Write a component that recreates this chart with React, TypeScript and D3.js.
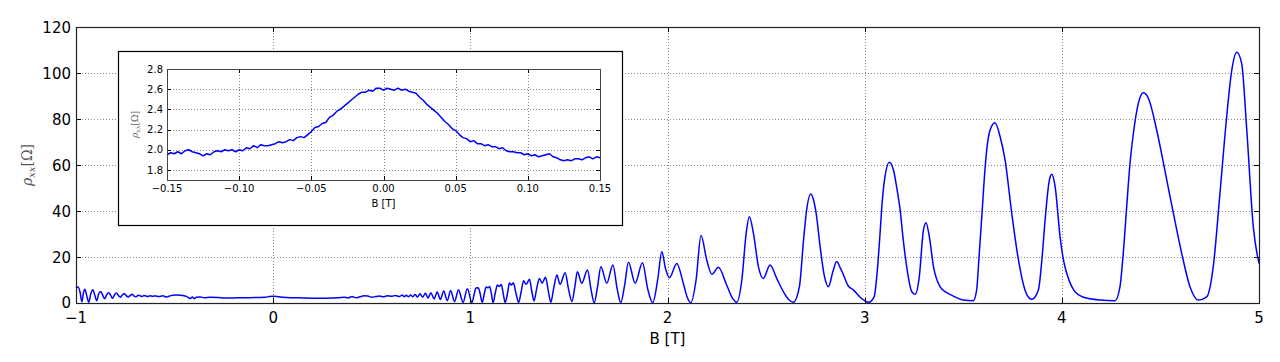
import React from "react";
import * as d3 from "d3";

// ---- Data ----
const B_TICKS = [-1, 0, 1, 2, 3, 4, 5];
const RHO_TICKS = [0, 20, 40, 60, 80, 100, 120];
const INSET_B_TICKS = [-0.15, -0.1, -0.05, 0, 0.05, 0.1, 0.15];
const INSET_RHO_TICKS = [1.8, 2.0, 2.2, 2.4, 2.6, 2.8];

// Main trace: [B (T), rho_xx (Ohm)]
const mainLow: [number, number][] = [
  [-1.0, 6.5], [-0.99, 7.0], [-0.98, 5.0], [-0.97, 0.5], [-0.962, 4.5], [-0.955, 6.0],
  [-0.945, 3.0], [-0.935, 0.3], [-0.925, 4.0], [-0.915, 5.8], [-0.905, 3.5], [-0.895, 1.0],
  [-0.885, 4.0], [-0.875, 5.0], [-0.865, 3.5], [-0.855, 1.8], [-0.845, 3.5], [-0.835, 4.5],
  [-0.825, 3.5], [-0.815, 2.0], [-0.805, 3.5], [-0.795, 4.3], [-0.785, 3.3], [-0.775, 2.5],
  [-0.765, 3.5], [-0.755, 4.0], [-0.745, 3.2], [-0.735, 2.6], [-0.725, 3.3], [-0.715, 3.8],
  [-0.705, 3.0], [-0.695, 2.7], [-0.685, 3.4], [-0.675, 3.2], [-0.665, 2.8], [-0.655, 3.3],
  [-0.645, 3.0], [-0.635, 2.8], [-0.625, 3.2], [-0.61, 2.9], [-0.6, 3.1], [-0.58, 2.8],
  [-0.56, 3.1], [-0.54, 2.6], [-0.52, 3.2], [-0.5, 3.5], [-0.48, 3.5], [-0.46, 3.3],
  [-0.44, 2.9], [-0.42, 2.0], [-0.41, 2.6], [-0.4, 1.9], [-0.39, 2.5], [-0.37, 2.6],
  [-0.35, 2.3], [-0.32, 2.5], [-0.28, 2.4], [-0.24, 2.2], [-0.2, 2.2], [-0.16, 2.3],
  [-0.12, 2.3], [-0.08, 2.4], [-0.04, 2.5], [-0.02, 2.8], [0.0, 2.9], [0.02, 2.8],
  [0.05, 2.5], [0.1, 2.3], [0.15, 2.2], [0.2, 2.1], [0.25, 2.1], [0.3, 2.2],
  [0.33, 2.3], [0.36, 2.5], [0.38, 2.2], [0.4, 2.8], [0.42, 2.3], [0.44, 2.7],
  [0.46, 3.1], [0.48, 3.0], [0.5, 2.5], [0.52, 2.8], [0.54, 3.0], [0.56, 2.7],
  [0.58, 3.2], [0.6, 2.9], [0.62, 3.3], [0.64, 2.8], [0.655, 3.5], [0.665, 2.7],
  [0.675, 3.4], [0.686, 2.7], [0.697, 3.5], [0.708, 2.7], [0.72, 3.7], [0.732, 2.6],
  [0.745, 4.0], [0.758, 2.5], [0.772, 4.2], [0.786, 2.2], [0.8, 4.5], [0.816, 1.8],
  [0.832, 4.8], [0.848, 1.5], [0.865, 5.2], [0.883, 1.0], [0.9, 5.4], [0.92, 0.6],
  [0.94, 5.8], [0.963, 0.3], [0.985, 6.2],
];

const mainMid: [number, number][] = [
  [1.008, 0.2], [1.02, 4.0], [1.028, 6.5], [1.04, 6.6], [1.05, 4.0], [1.06, 0.3],
  [1.072, 4.5], [1.08, 7.0], [1.09, 6.6], [1.098, 7.2], [1.107, 4.0], [1.115, 0.2],
  [1.128, 5.0], [1.137, 7.8], [1.147, 7.2], [1.157, 8.0], [1.167, 4.0], [1.177, 0.2],
  [1.19, 5.0], [1.198, 8.7], [1.208, 7.8], [1.218, 8.8], [1.232, 4.0], [1.245, 0.2],
  [1.258, 5.0], [1.27, 9.7], [1.283, 8.1], [1.3, 10.3], [1.312, 5.0], [1.323, 0.9],
  [1.336, 6.0], [1.35, 10.7], [1.364, 8.6], [1.381, 11.2], [1.395, 5.5], [1.408, 0.3],
  [1.423, 6.5], [1.439, 12.2], [1.455, 8.1], [1.481, 13.2], [1.498, 6.0], [1.515, 0.6],
  [1.53, 7.0], [1.543, 13.6], [1.565, 8.6], [1.594, 14.3], [1.612, 6.0], [1.628, 0.1],
  [1.645, 7.0], [1.662, 15.8], [1.692, 8.6], [1.723, 16.5], [1.745, 6.0], [1.763, 0.1],
  [1.783, 8.0], [1.802, 17.7], [1.836, 8.6], [1.873, 17.5], [1.9, 6.0], [1.925, 0.1],
  [1.95, 10.0], [1.971, 22.3], [1.99, 15.0], [2.01, 11.0], [2.047, 17.2], [2.08, 8.6],
  [2.1, 2.5], [2.118, 0.1], [2.145, 10.0], [2.17, 29.3], [2.199, 18.7], [2.225, 12.5],
  [2.258, 15.5], [2.3, 7.8], [2.33, 2.0], [2.351, 0.3], [2.377, 10.0], [2.399, 30.3],
  [2.415, 37.5], [2.436, 30.3], [2.461, 15.8], [2.486, 10.7], [2.52, 16.5], [2.554, 10.7],
  [2.588, 4.9], [2.615, 1.5], [2.638, 0.3],
];

const mainHigh: [number, number][] = [
  [2.669, 7.1], [2.69, 27.4], [2.705, 40.0], [2.727, 47.4], [2.74, 45.0], [2.754, 39.0],
  [2.774, 24.5], [2.795, 12.0], [2.816, 7.1], [2.84, 14.0], [2.858, 18.0], [2.875, 15.5],
  [2.889, 12.9], [2.917, 7.4], [2.943, 5.7], [2.977, 2.5], [3.0, 1.0], [3.019, 0.3],
  [3.048, 2.7], [3.065, 15.0], [3.078, 30.3], [3.09, 45.0], [3.103, 54.9], [3.125, 61.2],
  [3.146, 57.8], [3.163, 50.0], [3.18, 40.4], [3.195, 28.0], [3.213, 15.8], [3.239, 4.9],
  [3.256, 3.8], [3.277, 11.4], [3.298, 31.7], [3.311, 34.9], [3.328, 28.8], [3.349, 15.8],
  [3.382, 7.1], [3.416, 4.5], [3.45, 3.0], [3.5, 1.3], [3.551, 1.0], [3.568, 5.7],
  [3.58, 20.0], [3.594, 37.5], [3.61, 57.8], [3.619, 66.5], [3.636, 75.2], [3.661, 78.4],
  [3.687, 72.3], [3.712, 62.2], [3.746, 39.0], [3.78, 18.7], [3.813, 5.7], [3.847, 1.6],
  [3.881, 5.7], [3.9, 20.0], [3.915, 36.0], [3.937, 53.5], [3.949, 56.0], [3.966, 50.6],
  [3.991, 28.8], [4.01, 18.0], [4.025, 12.9], [4.06, 5.7], [4.11, 2.5], [4.194, 1.3],
  [4.27, 1.0], [4.295, 7.1], [4.31, 20.0], [4.329, 41.9], [4.345, 60.0], [4.363, 73.8],
  [4.388, 86.8], [4.413, 91.4], [4.439, 89.0], [4.481, 75.2], [4.515, 61.0], [4.549, 46.2],
  [4.58, 33.0], [4.608, 21.6], [4.65, 7.1], [4.692, 1.3], [4.735, 2.7], [4.768, 15.8],
  [4.802, 47.7], [4.836, 81.0], [4.862, 101.3], [4.887, 109.0], [4.912, 104.2], [4.938, 75.2],
  [4.971, 33.2], [5.0, 17.2],
];

// Inset trace: [B (T), rho_xx (Ohm)]
const insetData: [number, number][] = [
  [-0.15, 1.95], [-0.1475, 1.97], [-0.145, 1.96], [-0.1425, 1.98], [-0.14, 1.96], [-0.1375, 1.99],
  [-0.135, 2.0], [-0.1325, 1.98], [-0.13, 1.97], [-0.1275, 1.96], [-0.125, 1.94], [-0.1225, 1.96],
  [-0.12, 1.95], [-0.1175, 1.98], [-0.115, 1.99], [-0.1125, 1.98], [-0.11, 2.0], [-0.1075, 1.99],
  [-0.105, 2.0], [-0.1025, 1.98], [-0.1, 2.0], [-0.0975, 1.99], [-0.095, 2.02], [-0.0925, 2.01],
  [-0.09, 2.04], [-0.0875, 2.02], [-0.085, 2.05], [-0.0825, 2.04], [-0.08, 2.04], [-0.0775, 2.05],
  [-0.075, 2.06], [-0.0725, 2.08], [-0.07, 2.07], [-0.0675, 2.08], [-0.065, 2.1], [-0.0625, 2.09],
  [-0.06, 2.12], [-0.0575, 2.13], [-0.055, 2.12], [-0.0525, 2.15], [-0.05, 2.18], [-0.0475, 2.22],
  [-0.045, 2.23], [-0.0425, 2.26], [-0.04, 2.27], [-0.0375, 2.32], [-0.035, 2.34], [-0.0325, 2.38],
  [-0.03, 2.4], [-0.0275, 2.43], [-0.025, 2.46], [-0.0225, 2.49], [-0.02, 2.52], [-0.0175, 2.55],
  [-0.015, 2.57], [-0.0125, 2.57], [-0.01, 2.59], [-0.0075, 2.58], [-0.005, 2.61], [-0.0025, 2.61],
  [0.0, 2.59], [0.0025, 2.61], [0.005, 2.6], [0.0075, 2.59], [0.01, 2.61], [0.0125, 2.59],
  [0.015, 2.6], [0.0175, 2.58], [0.02, 2.57], [0.0225, 2.56], [0.025, 2.52], [0.0275, 2.49],
  [0.03, 2.45], [0.0325, 2.42], [0.035, 2.39], [0.0375, 2.36], [0.04, 2.32], [0.0425, 2.28],
  [0.045, 2.25], [0.0475, 2.21], [0.05, 2.19], [0.0525, 2.15], [0.055, 2.12], [0.0575, 2.11],
  [0.06, 2.08], [0.0625, 2.09], [0.065, 2.06], [0.0675, 2.06], [0.07, 2.04], [0.0725, 2.05],
  [0.075, 2.03], [0.0775, 2.03], [0.08, 2.01], [0.0825, 2.02], [0.085, 1.99], [0.0875, 1.98],
  [0.09, 1.98], [0.0925, 1.97], [0.095, 1.97], [0.0975, 1.95], [0.1, 1.96], [0.1025, 1.94],
  [0.105, 1.95], [0.1075, 1.93], [0.11, 1.94], [0.1125, 1.95], [0.115, 1.96], [0.1175, 1.93],
  [0.12, 1.92], [0.1225, 1.9], [0.125, 1.89], [0.1275, 1.9], [0.13, 1.89], [0.1325, 1.91],
  [0.135, 1.91], [0.1375, 1.9], [0.14, 1.92], [0.1425, 1.93], [0.145, 1.91], [0.1475, 1.93],
  [0.15, 1.92],
];

const mainData = [...mainLow, ...mainMid, ...mainHigh];

const W = 1280;
const H = 362;
const M = { left: 76, right: 1259, top: 27, bottom: 303 };
const INS_BOX = { x: 118, y: 51, w: 504, h: 174 };
const INS = { left: 167, right: 600, top: 69, bottom: 180 };

const SANS = "'DejaVu Sans', sans-serif";
const SERIF = "'DejaVu Serif', serif";
const GRID = "#888";

export default function App() {
  const x = d3.scaleLinear().domain([-1, 5]).range([M.left, M.right]);
  const y = d3.scaleLinear().domain([0, 120]).range([M.bottom, M.top]);
  const line = d3
    .line<[number, number]>()
    .x((d) => x(d[0]))
    .y((d) => y(d[1]))
    .curve(d3.curveMonotoneX);

  const ix = d3.scaleLinear().domain([-0.15, 0.15]).range([INS.left, INS.right]);
  const iy = d3.scaleLinear().domain([1.7, 2.8]).range([INS.bottom, INS.top]);
  const iline = d3
    .line<[number, number]>()
    .x((d) => ix(d[0]))
    .y((d) => iy(d[1]));

  const fmtMain = d3.format("d");
  const fmtIx = d3.format(".2f");
  const fmtIy = d3.format(".1f");
  const TL = 5;
  const ITL = 4;

  return (
    <svg
      width={W}
      height={H}
      style={{ position: "absolute", left: 0, top: 0, display: "block", background: "#fff" }}
    >
      {/* main grid */}
      <g stroke={GRID} strokeWidth={1} strokeDasharray="1,2">
        {B_TICKS.slice(1, -1).map((t) => (
          <line key={"gx" + t} x1={Math.round(x(t)) + 0.5} x2={Math.round(x(t)) + 0.5} y1={M.top} y2={M.bottom} />
        ))}
        {RHO_TICKS.slice(1, -1).map((t) => (
          <line key={"gy" + t} x1={M.left} x2={M.right} y1={Math.round(y(t)) + 0.5} y2={Math.round(y(t)) + 0.5} />
        ))}
      </g>

      {/* main curve */}
      <path d={line(mainData) || ""} fill="none" stroke="#0000ff" strokeWidth={1.5} strokeLinejoin="round" />

      {/* main ticks (inside, all four sides) */}
      <g stroke="#000" strokeWidth={1}>
        {B_TICKS.map((t) => {
          const px = Math.round(x(t)) + 0.5;
          return (
            <g key={"tx" + t}>
              <line x1={px} x2={px} y1={M.bottom} y2={M.bottom - TL} />
              <line x1={px} x2={px} y1={M.top} y2={M.top + TL} />
            </g>
          );
        })}
        {RHO_TICKS.map((t) => {
          const py = Math.round(y(t)) + 0.5;
          return (
            <g key={"ty" + t}>
              <line x1={M.left} x2={M.left + TL} y1={py} y2={py} />
              <line x1={M.right} x2={M.right - TL} y1={py} y2={py} />
            </g>
          );
        })}
      </g>

      {/* main frame */}
      <rect
        x={M.left + 0.5}
        y={M.top + 0.5}
        width={M.right - M.left}
        height={M.bottom - M.top}
        fill="none"
        stroke="#222"
        strokeWidth={1.2}
      />

      {/* main tick labels */}
      <g fontFamily={SANS} fontSize={15} fill="#000">
        {B_TICKS.map((t) => (
          <text key={"lx" + t} x={x(t)} y={M.bottom + 20} textAnchor="middle">
            {fmtMain(t)}
          </text>
        ))}
        {RHO_TICKS.map((t) => (
          <text key={"ly" + t} x={M.left - 5} y={y(t) + (t === 0 ? 4.5 : 5.5)} textAnchor="end">
            {fmtMain(t)}
          </text>
        ))}
      </g>

      {/* main axis labels */}
      <text x={(M.left + M.right) / 2} y={344} textAnchor="middle" fontFamily={SANS} fontSize={15} fill="#000">
        B [T]
      </text>
      <text
        transform={`translate(32,${(M.top + M.bottom) / 2}) rotate(-90)`}
        textAnchor="middle"
        fontFamily={SERIF}
        fontSize={14}
        fill="#555"
      >
        <tspan fontStyle="italic">ρ</tspan>
        <tspan fontStyle="italic" fontSize={10} dy={3}>xx</tspan>
        <tspan dy={-3}>[Ω]</tspan>
      </text>

      {/* inset */}
      <rect
        x={INS_BOX.x + 0.5}
        y={INS_BOX.y + 0.5}
        width={INS_BOX.w}
        height={INS_BOX.h}
        fill="#fff"
        stroke="#000"
        strokeWidth={1.2}
      />
      <g stroke={GRID} strokeWidth={1} strokeDasharray="1,2">
        {INSET_B_TICKS.slice(1, -1).map((t) => (
          <line key={"igx" + t} x1={Math.round(ix(t)) + 0.5} x2={Math.round(ix(t)) + 0.5} y1={INS.top} y2={INS.bottom} />
        ))}
        {INSET_RHO_TICKS.slice(0, -1).map((t) => (
          <line key={"igy" + t} x1={INS.left} x2={INS.right} y1={Math.round(iy(t)) + 0.5} y2={Math.round(iy(t)) + 0.5} />
        ))}
      </g>
      <path d={iline(insetData) || ""} fill="none" stroke="#0000ff" strokeWidth={1.5} strokeLinejoin="round" />
      <g stroke="#000" strokeWidth={1}>
        {INSET_B_TICKS.map((t) => {
          const px = Math.round(ix(t)) + 0.5;
          return (
            <g key={"itx" + t}>
              <line x1={px} x2={px} y1={INS.bottom} y2={INS.bottom - ITL} />
              <line x1={px} x2={px} y1={INS.top} y2={INS.top + ITL} />
            </g>
          );
        })}
        {INSET_RHO_TICKS.map((t) => {
          const py = Math.round(iy(t)) + 0.5;
          return (
            <g key={"ity" + t}>
              <line x1={INS.left} x2={INS.left + ITL} y1={py} y2={py} />
              <line x1={INS.right} x2={INS.right - ITL} y1={py} y2={py} />
            </g>
          );
        })}
      </g>
      <rect
        x={INS.left + 0.5}
        y={INS.top + 0.5}
        width={INS.right - INS.left}
        height={INS.bottom - INS.top}
        fill="none"
        stroke="#444"
        strokeWidth={1}
      />
      <g fontFamily={SANS} fontSize={10} fill="#000">
        {INSET_B_TICKS.map((t) => (
          <text key={"ilx" + t} x={ix(t)} y={INS.bottom + 12} textAnchor="middle">
            {fmtIx(t)}
          </text>
        ))}
        {INSET_RHO_TICKS.map((t) => (
          <text key={"ily" + t} x={INS.left - 4} y={iy(t) + 3.7} textAnchor="end">
            {fmtIy(t)}
          </text>
        ))}
      </g>
      <text x={(INS.left + INS.right) / 2} y={207} textAnchor="middle" fontFamily={SANS} fontSize={10} fill="#000">
        B [T]
      </text>
      <text
        transform={`translate(138,${(INS.top + INS.bottom) / 2}) rotate(-90)`}
        textAnchor="middle"
        fontFamily={SERIF}
        fontSize={9}
        fill="#666"
      >
        <tspan fontStyle="italic">ρ</tspan>
        <tspan fontStyle="italic" fontSize={6.5} dy={2}>xx</tspan>
        <tspan dy={-2}>[Ω]</tspan>
      </text>
    </svg>
  );
}
